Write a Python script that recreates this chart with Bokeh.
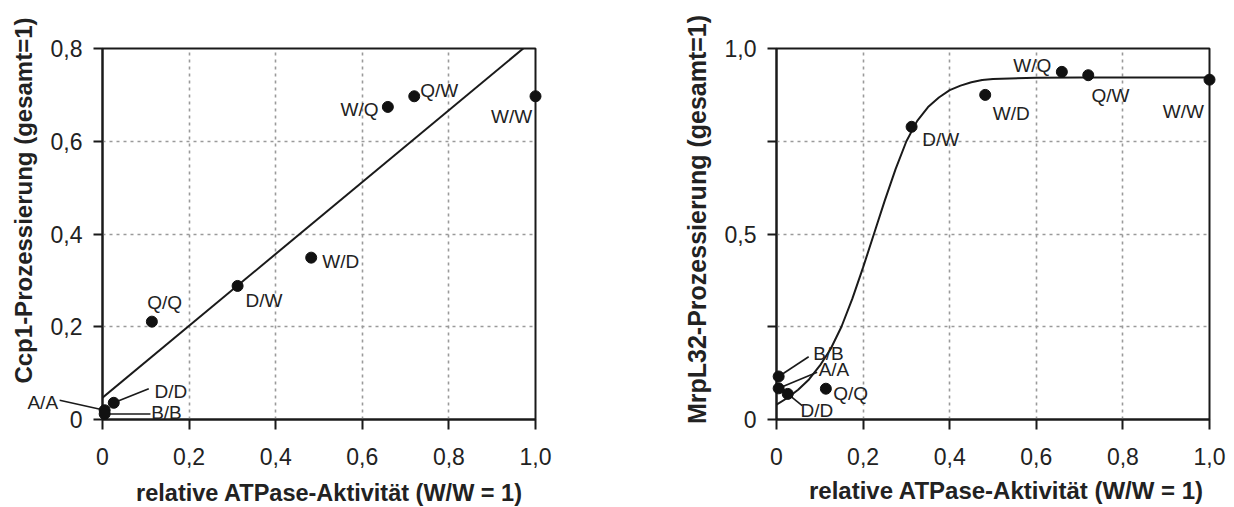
from math import pi
from bokeh.plotting import figure
from bokeh.layouts import row
from bokeh.models import Range1d, FixedTicker
from bokeh.core.properties import value
from bokeh.embed import file_html
from bokeh.resources import INLINE

# ---------------- data ----------------
variants = ["A/A", "B/B", "D/D", "Q/Q", "D/W", "W/D", "W/Q", "Q/W", "W/W"]
atpase = [0.005, 0.005, 0.026, 0.114, 0.312, 0.482, 0.659, 0.72, 1.0]
ccp1 = [0.02, 0.012, 0.036, 0.211, 0.288, 0.349, 0.674, 0.697, 0.697]
mrpl32 = [0.084, 0.116, 0.069, 0.083, 0.789, 0.875, 0.937, 0.928, 0.916]

# linear fit shown in the Ccp1 panel
ccp1_fit_intercept = 0.047
ccp1_fit_slope = 0.775

# sigmoid fit curve shown in the MrpL32 panel
mrpl32_curve_x = [0, 0.025, 0.05, 0.075, 0.1, 0.125, 0.15, 0.175, 0.2, 0.225, 0.25,
                  0.275, 0.3, 0.325, 0.35, 0.375, 0.4, 0.425, 0.45, 0.475, 0.5,
                  0.6, 0.7, 0.8, 1.0]
mrpl32_curve_y = [0.04, 0.058, 0.08, 0.108, 0.145, 0.19, 0.25, 0.325, 0.41, 0.50, 0.59,
                  0.675, 0.75, 0.805, 0.842, 0.868, 0.888, 0.90, 0.909, 0.915, 0.918,
                  0.921, 0.922, 0.922, 0.922]

x_ticks = [0, 0.2, 0.4, 0.6, 0.8, 1.0]
x_tick_labels = ["0", "0,2", "0,4", "0,6", "0,8", "1,0"]
ccp1_ticks = [0, 0.2, 0.4, 0.6, 0.8]
ccp1_tick_labels = ["0", "0,2", "0,4", "0,6", "0,8"]
mrpl32_ticks = [0, 0.25, 0.5, 0.75, 1.0]
mrpl32_tick_labels = ["0", "", "0,5", "", "1,0"]

x_title = "relative ATPase-Aktivität (W/W = 1)"
ccp1_title = "Ccp1-Prozessierung (gesamt=1)"
mrpl32_title = "MrpL32-Prozessierung (gesamt=1)"

# ---------------- styles / label placement (screen px: dx, dy down, align, leader end) ----------------
FONT = "Liberation Sans"
INK = "#1a1a1a"
TXT = "#222222"
FW, FH = 433, 371

ccp1_label_style = {
    "A/A": (-46.6, -7.5, "right", (-45, -10)),
    "B/B": (46.5, -1, "left", (45.8, 0)),
    "D/D": (40.7, -11.3, "left", (35, -14)),
    "Q/Q": (-4.7, -18.7, "left", None),
    "D/W": (8, 14.6, "left", None),
    "W/D": (11, 3.8, "left", None),
    "W/Q": (-9.3, 3, "right", None),
    "Q/W": (6, -5.8, "left", None),
    "W/W": (-3.3, 20, "right", None),
}
mrpl32_label_style = {
    "A/A": (40, -18.5, "left", (38.5, -16)),
    "B/B": (34.5, -23, "left", (30, -19.7)),
    "D/D": (12.7, 16.8, "left", (14.4, 11.8)),
    "Q/Q": (7.3, 4.3, "left", None),
    "D/W": (10.6, 12.9, "left", None),
    "W/D": (7.5, 18.2, "left", None),
    "W/Q": (-10.5, -6.8, "right", None),
    "Q/W": (3.2, 20.5, "left", None),
    "W/W": (-5.6, 32.2, "right", None),
}


def make_panel(yvals, yrange, yticks, ylabels, ytitle, ytitle_pos, xtitle_pos,
               label_style, border_left, border_right, ytitle_size, xtitle_size):
    p = figure(frame_width=FW, frame_height=FH,
               min_border_left=border_left, min_border_right=border_right,
               min_border_top=48, min_border_bottom=87,
               x_range=Range1d(0, 1), y_range=Range1d(*yrange),
               output_backend="svg", toolbar_location=None,
               background_fill_color="white", border_fill_color="white")
    p.outline_line_color = INK
    p.outline_line_width = 2

    # axes
    p.xaxis.ticker = FixedTicker(ticks=x_ticks)
    p.xaxis.major_label_overrides = dict(zip(x_ticks, x_tick_labels))
    p.yaxis.ticker = FixedTicker(ticks=yticks)
    p.yaxis.major_label_overrides = dict(zip(yticks, ylabels))
    for ax in (p.xaxis, p.yaxis):
        ax.axis_line_color = INK
        ax.axis_line_width = 2
        ax.major_tick_line_color = INK
        ax.major_tick_line_width = 2
        ax.major_tick_in = 0
        ax.minor_tick_line_color = None
        ax.major_label_text_font = FONT
        ax.major_label_text_font_size = "23px"
        ax.major_label_text_color = TXT
    p.xaxis.major_tick_out = 10
    p.yaxis.major_tick_out = 9
    p.xaxis.major_label_standoff = 18
    p.yaxis.major_label_standoff = 11

    # grid
    p.xgrid.ticker = FixedTicker(ticks=x_ticks)
    p.ygrid.ticker = FixedTicker(ticks=yticks)
    for g in (p.xgrid, p.ygrid):
        g.grid_line_color = "#9a9a9a"
        g.grid_line_width = 1.6
        g.grid_line_dash = "3 4"

    yspan = yrange[1] - yrange[0]
    ypx = FH / yspan
    xpx = FW / 1.0

    # axis titles (text glyphs placed relative to the frame, converted from pixels)
    p.text(x=[ytitle_pos[0] / xpx], y=[yrange[0] + ytitle_pos[1] / ypx], text=[ytitle],
           angle=pi / 2, text_align="center", text_baseline="middle",
           text_font=value(FONT), text_font_style="bold", text_font_size=value(ytitle_size),
           text_color=TXT, level="overlay")
    p.text(x=[xtitle_pos[0] / xpx], y=[yrange[0] + xtitle_pos[1] / ypx], text=[x_title],
           text_align="center", text_baseline="middle",
           text_font=value(FONT), text_font_style="bold", text_font_size=value(xtitle_size),
           text_color=TXT, level="overlay")

    # leader lines and labels
    lx0, ly0, lx1, ly1 = [], [], [], []
    tx, ty, tt, tdx, tdy, talign = [], [], [], [], [], []
    for v, x, y in zip(variants, atpase, yvals):
        dx, dy, align, leader = label_style[v]
        if leader is not None:
            lx0.append(x)
            ly0.append(y)
            lx1.append(x + leader[0] / xpx)
            ly1.append(y - leader[1] / ypx)
        tx.append(x)
        ty.append(y)
        tt.append(v)
        tdx.append(dx)
        tdy.append(dy)
        talign.append(align)
    p.segment(lx0, ly0, lx1, ly1, line_color=INK, line_width=1.6, level="overlay")
    p.scatter(atpase, yvals, size=11, color="#111111", level="overlay")
    p.text(x=tx, y=ty, text=tt, x_offset=tdx, y_offset=tdy, text_align=talign,
           text_baseline="middle", text_font=value(FONT), text_font_size=value("19px"),
           text_color=TXT, level="overlay")
    return p


p1 = make_panel(ccp1, (0, 0.8), ccp1_ticks, ccp1_tick_labels, ccp1_title,
                (-79, 219), (227, -73), ccp1_label_style, 102, 92, "24px", "23.5px")
p1.line([0, 1], [ccp1_fit_intercept, ccp1_fit_intercept + ccp1_fit_slope],
        line_color=INK, line_width=2)

p2 = make_panel(mrpl32, (0, 1.0), mrpl32_ticks, mrpl32_tick_labels, mrpl32_title,
                (-80, 200), (230, -71), mrpl32_label_style, 149, 23, "25px", "24px")
p2.line(mrpl32_curve_x, mrpl32_curve_y, line_color=INK, line_width=2)

layout = row(p1, p2)
open("out.html", "w").write(file_html(layout, INLINE))
